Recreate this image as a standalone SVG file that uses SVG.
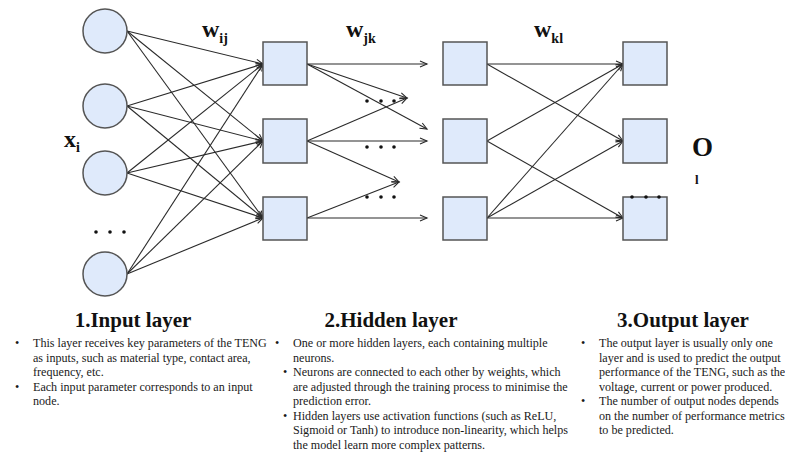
<svg xmlns="http://www.w3.org/2000/svg" width="785" height="455" viewBox="0 0 785 455">
  <style>
    .neuron { fill: #dfeafb; stroke: #555; stroke-width: 1.5; }
    .link { stroke: #2a2a2a; stroke-width: 1.1; fill: none; marker-end: url(#open-arrow); }
    .dot { fill: #111; }
    .sym { font-family: "Liberation Serif", "Times New Roman", serif; font-weight: bold; fill: #111; }
    .title { font-family: "Liberation Serif", "Times New Roman", serif; font-weight: bold; font-size: 21px; fill: #111; text-anchor: middle; }
    .body { font-family: "Liberation Serif", "Times New Roman", serif; font-size: 12.1px; fill: #1a1a1a; }
  </style>
  <defs>
    <marker id="open-arrow" markerUnits="userSpaceOnUse" markerWidth="10" markerHeight="10" refX="8" refY="4" orient="auto">
      <path d="M1,1 L8,4 L1,7" fill="none" stroke="#2a2a2a" stroke-width="1.1"/>
    </marker>
  </defs>

  <!-- connectors -->
  <g id="connectors">
    <!-- input -> hidden 1 -->
    <line class="link" x1="127" y1="31" x2="263" y2="64"/>
    <line class="link" x1="127" y1="31" x2="263" y2="141"/>
    <line class="link" x1="127" y1="31" x2="263" y2="218"/>
    <line class="link" x1="127" y1="106" x2="263" y2="64"/>
    <line class="link" x1="127" y1="106" x2="263" y2="141"/>
    <line class="link" x1="127" y1="106" x2="263" y2="218"/>
    <line class="link" x1="127" y1="173" x2="263" y2="64"/>
    <line class="link" x1="127" y1="173" x2="263" y2="141"/>
    <line class="link" x1="127" y1="173" x2="263" y2="218"/>
    <line class="link" x1="127" y1="274" x2="263" y2="64"/>
    <line class="link" x1="127" y1="274" x2="263" y2="141"/>
    <line class="link" x1="127" y1="274" x2="263" y2="218"/>
    <!-- hidden 1 -> hidden 2 -->
    <line class="link" x1="307" y1="64" x2="427" y2="64"/>
    <line class="link" x1="307" y1="64" x2="407" y2="98"/>
    <line class="link" x1="307" y1="64" x2="427" y2="129"/>
    <line class="link" x1="307" y1="141" x2="407" y2="98"/>
    <line class="link" x1="307" y1="141" x2="427" y2="141"/>
    <line class="link" x1="307" y1="141" x2="399" y2="182"/>
    <line class="link" x1="307" y1="218" x2="399" y2="182"/>
    <line class="link" x1="307" y1="218" x2="427" y2="218"/>
    <!-- hidden 2 -> output -->
    <line class="link" x1="487" y1="64" x2="623" y2="64"/>
    <line class="link" x1="487" y1="64" x2="623" y2="141"/>
    <line class="link" x1="487" y1="141" x2="623" y2="64"/>
    <line class="link" x1="487" y1="141" x2="623" y2="218"/>
    <line class="link" x1="487" y1="218" x2="623" y2="64"/>
    <line class="link" x1="487" y1="218" x2="623" y2="141"/>
    <line class="link" x1="487" y1="218" x2="623" y2="218"/>
  </g>

  <!-- input layer -->
  <g id="in-1"><circle class="neuron" cx="105" cy="31" r="22"/></g>
  <g id="in-2"><circle class="neuron" cx="105" cy="106" r="22"/></g>
  <g id="in-3"><circle class="neuron" cx="105" cy="173" r="22"/></g>
  <g id="in-4"><circle class="neuron" cx="105" cy="274" r="22"/></g>
  <g id="in-ellipsis">
    <circle class="dot" cx="96" cy="232" r="1.8"/>
    <circle class="dot" cx="110" cy="232" r="1.8"/>
    <circle class="dot" cx="124" cy="232" r="1.8"/>
  </g>

  <!-- hidden layer 1 -->
  <g id="h1-1"><rect class="neuron" x="263" y="42" width="44" height="43"/></g>
  <g id="h1-2"><rect class="neuron" x="263" y="119" width="44" height="44"/></g>
  <g id="h1-3"><rect class="neuron" x="263" y="197" width="44" height="43"/></g>

  <!-- hidden layer 2 -->
  <g id="h2-1"><rect class="neuron" x="443" y="42" width="44" height="43"/></g>
  <g id="h2-2"><rect class="neuron" x="443" y="119" width="44" height="44"/></g>
  <g id="h2-3"><rect class="neuron" x="443" y="197" width="44" height="43"/></g>

  <g id="hidden-ellipsis">
    <circle class="dot" cx="367" cy="101" r="1.8"/>
    <circle class="dot" cx="381" cy="101" r="1.8"/>
    <circle class="dot" cx="394" cy="101" r="1.8"/>
    <circle class="dot" cx="367" cy="147" r="1.8"/>
    <circle class="dot" cx="381" cy="147" r="1.8"/>
    <circle class="dot" cx="394" cy="147" r="1.8"/>
    <circle class="dot" cx="367" cy="197" r="1.8"/>
    <circle class="dot" cx="381" cy="197" r="1.8"/>
    <circle class="dot" cx="394" cy="197" r="1.8"/>
  </g>

  <!-- output layer -->
  <g id="out-1"><rect class="neuron" x="623" y="42" width="44" height="43"/></g>
  <g id="out-2"><rect class="neuron" x="623" y="119" width="44" height="44"/></g>
  <g id="out-3">
    <rect class="neuron" x="623" y="197" width="44" height="43"/>
    <circle class="dot" cx="632" cy="197" r="1.8"/>
    <circle class="dot" cx="646" cy="197" r="1.8"/>
    <circle class="dot" cx="659" cy="197" r="1.8"/>
  </g>

  <!-- symbols -->
  <g id="labels">
    <text class="sym" x="64" y="147" font-size="24">x<tspan font-size="14" dy="5">i</tspan></text>
    <text class="sym" x="202" y="37" font-size="24">w<tspan font-size="14" dy="6">ij</tspan></text>
    <text class="sym" x="346" y="37" font-size="24">w<tspan font-size="14" dy="6">jk</tspan></text>
    <text class="sym" x="534" y="37" font-size="24">w<tspan font-size="14" dy="6">kl</tspan></text>
    <text class="sym" x="692" y="156" font-size="27">O</text>
    <text class="sym" x="695" y="184" font-size="13">l</text>
  </g>

  <!-- layer descriptions -->
  <g id="input-desc">
    <text class="title" x="133" y="327">1.Input layer</text>
    <text class="body">
      <tspan x="15" y="347">•</tspan><tspan x="33" y="347">This layer receives key parameters of the TENG</tspan>
      <tspan x="33" y="361.5">as inputs, such as material type, contact area,</tspan>
      <tspan x="33" y="376">frequency, etc.</tspan>
      <tspan x="15" y="390.5">•</tspan><tspan x="33" y="390.5">Each input parameter corresponds to an input</tspan>
      <tspan x="33" y="405">node.</tspan>
    </text>
  </g>
  <g id="hidden-desc">
    <text class="title" x="391" y="327">2.Hidden layer</text>
    <text class="body">
      <tspan x="275" y="347">•</tspan><tspan x="293" y="347">One or more hidden layers, each containing multiple</tspan>
      <tspan x="293" y="361.5">neurons.</tspan>
      <tspan x="283" y="376">•</tspan><tspan x="293" y="376">Neurons are connected to each other by weights, which</tspan>
      <tspan x="293" y="390.5">are adjusted through the training process to minimise the</tspan>
      <tspan x="293" y="405">prediction error.</tspan>
      <tspan x="283" y="419.5">•</tspan><tspan x="293" y="419.5">Hidden layers use activation functions (such as ReLU,</tspan>
      <tspan x="293" y="434">Sigmoid or Tanh) to introduce non-linearity, which helps</tspan>
      <tspan x="293" y="448.5">the model learn more complex patterns.</tspan>
    </text>
  </g>
  <g id="output-desc">
    <text class="title" x="683" y="327">3.Output layer</text>
    <text class="body">
      <tspan x="581" y="347">•</tspan><tspan x="599" y="347">The output layer is usually only one</tspan>
      <tspan x="599" y="361.5">layer and is used to predict the output</tspan>
      <tspan x="599" y="376">performance of the TENG, such as the</tspan>
      <tspan x="599" y="390.5">voltage, current or power produced.</tspan>
      <tspan x="581" y="405">•</tspan><tspan x="599" y="405">The number of output nodes depends</tspan>
      <tspan x="599" y="419.5">on the number of performance metrics</tspan>
      <tspan x="599" y="434">to be predicted.</tspan>
    </text>
  </g>
</svg>
